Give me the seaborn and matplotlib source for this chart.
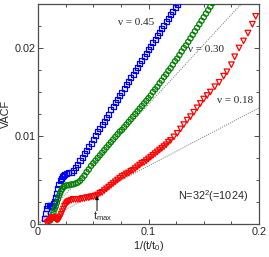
import matplotlib
matplotlib.use('Agg')
import matplotlib.pyplot as plt
import seaborn as sns
import pandas as pd

# values
blue_x = [0.006, 0.007, 0.008, 0.009, 0.010, 0.011, 0.012, 0.013, 0.014, 0.015,
          0.016, 0.017, 0.018, 0.019, 0.020, 0.021, 0.022, 0.023, 0.024,
          0.026, 0.028, 0.030, 0.032, 0.034, 0.036, 0.038, 0.040, 0.042, 0.044,
          0.046, 0.048, 0.050, 0.052, 0.054, 0.056, 0.058, 0.060, 0.062, 0.064,
          0.066, 0.068, 0.070, 0.072, 0.074, 0.076, 0.078, 0.080, 0.082, 0.084,
          0.086, 0.088, 0.090, 0.092, 0.094, 0.096, 0.098, 0.100, 0.102, 0.104,
          0.106, 0.108, 0.110, 0.112, 0.114, 0.116, 0.118, 0.120, 0.122, 0.124,
          0.126, 0.128]
blue_y = [0.0006, 0.0012, 0.0018, 0.0021, 0.0021, 0.0021, 0.0020, 0.0021, 0.0023, 0.0026,
          0.0030, 0.0035, 0.0040, 0.0045, 0.0049, 0.0052, 0.0054, 0.0055, 0.0056,
          0.0057, 0.0058, 0.0059, 0.0061, 0.0064, 0.0068, 0.0072, 0.0076, 0.0080, 0.0084,
          0.0088, 0.0092, 0.0096, 0.0101, 0.0105, 0.0109, 0.0113, 0.0117, 0.0121, 0.0125,
          0.0130, 0.0134, 0.0138, 0.0142, 0.0146, 0.0150, 0.0154, 0.0158, 0.0162, 0.0166,
          0.0170, 0.0174, 0.0178, 0.0182, 0.0186, 0.0190, 0.0194, 0.0198, 0.0202, 0.0206,
          0.0210, 0.0214, 0.0218, 0.0222, 0.0226, 0.0230, 0.0234, 0.0238, 0.0242, 0.0246,
          0.0250, 0.0254]

green_x = [0.011, 0.012, 0.013, 0.014, 0.015, 0.016, 0.017, 0.018, 0.019, 0.020,
           0.021, 0.022, 0.023, 0.024, 0.026, 0.028, 0.030, 0.032, 0.034, 0.036,
           0.038, 0.040, 0.042, 0.044, 0.046, 0.048, 0.050, 0.052, 0.054, 0.056,
           0.058, 0.060, 0.062, 0.064, 0.066, 0.068, 0.070, 0.072, 0.074, 0.076,
           0.078, 0.080, 0.082, 0.084, 0.086, 0.088, 0.090, 0.092, 0.094, 0.096,
           0.098, 0.100, 0.102, 0.104, 0.106, 0.108, 0.110, 0.112, 0.114, 0.116,
           0.118, 0.120, 0.122, 0.124, 0.126, 0.128, 0.130, 0.132, 0.134, 0.136,
           0.138, 0.140, 0.142, 0.144, 0.146, 0.148, 0.150, 0.152, 0.154, 0.156,
           0.158]
green_y = [0.0004, 0.0007, 0.0010, 0.0013, 0.0017, 0.0020, 0.0024, 0.0028, 0.0032, 0.0035,
           0.0038, 0.0040, 0.0042, 0.0043, 0.0044, 0.0044, 0.0045, 0.0045, 0.0046, 0.0047,
           0.0049, 0.0052, 0.0055, 0.0059, 0.0062, 0.0066, 0.0069, 0.0072, 0.0075, 0.0078,
           0.0081, 0.0084, 0.0087, 0.0090, 0.0093, 0.0096, 0.0099, 0.0102, 0.0105, 0.0107,
           0.0110, 0.0113, 0.0116, 0.0119, 0.0122, 0.0125, 0.0128, 0.0131, 0.0134, 0.0137,
           0.0140, 0.0143, 0.0146, 0.0150, 0.0153, 0.0156, 0.0160, 0.0163, 0.0167, 0.0170,
           0.0174, 0.0177, 0.0181, 0.0185, 0.0188, 0.0192, 0.0196, 0.0200, 0.0203, 0.0207,
           0.0211, 0.0215, 0.0219, 0.0223, 0.0227, 0.0231, 0.0235, 0.0239, 0.0243, 0.0247,
           0.0251]

red_x = [0.008, 0.009, 0.010, 0.011, 0.012, 0.013, 0.014, 0.015, 0.016, 0.017,
         0.018, 0.019, 0.020, 0.021, 0.022, 0.023, 0.024, 0.025, 0.026, 0.027,
         0.028, 0.030, 0.032, 0.034, 0.036, 0.038, 0.040, 0.042, 0.044, 0.046,
         0.048, 0.050, 0.052, 0.054, 0.056, 0.058, 0.060, 0.062, 0.064, 0.066,
         0.068, 0.070, 0.072, 0.074, 0.076, 0.078, 0.080, 0.082, 0.084, 0.086,
         0.088, 0.090, 0.092, 0.094, 0.096, 0.098, 0.100, 0.102, 0.104, 0.106,
         0.108, 0.110, 0.112, 0.114, 0.116, 0.118, 0.120, 0.123, 0.126, 0.129,
         0.132, 0.135, 0.138, 0.141, 0.144, 0.147, 0.150, 0.153, 0.156, 0.160,
         0.164, 0.168, 0.171, 0.175, 0.178, 0.182, 0.186, 0.190, 0.194, 0.197]
red_y = [0.0001, 0.0002, 0.0003, 0.0005, 0.0006, 0.0007, 0.0007, 0.0007, 0.0006, 0.0005,
         0.0005, 0.0006, 0.0008, 0.0011, 0.0014, 0.0017, 0.0020, 0.0022, 0.0024, 0.0025,
         0.0026, 0.0027, 0.0028, 0.0028, 0.0028, 0.0028, 0.0029, 0.0029, 0.0030, 0.0030,
         0.0031, 0.0031, 0.0032, 0.0033, 0.0035, 0.0036, 0.0038, 0.0040, 0.0042, 0.0044,
         0.0046, 0.0048, 0.0050, 0.0052, 0.0054, 0.0055, 0.0057, 0.0058, 0.0060, 0.0061,
         0.0063, 0.0065, 0.0067, 0.0069, 0.0070, 0.0072, 0.0074, 0.0076, 0.0078, 0.0080,
         0.0082, 0.0084, 0.0086, 0.0088, 0.0090, 0.0093, 0.0095, 0.0099, 0.0103, 0.0108,
         0.0113, 0.0118, 0.0122, 0.0127, 0.0132, 0.0137, 0.0142, 0.0146, 0.0150, 0.0156,
         0.0161, 0.0168, 0.0173, 0.0181, 0.0190, 0.0200, 0.0208, 0.0217, 0.0227, 0.0236]

# slopes of the dotted guide lines through the origin
fit_slopes = [0.136, 0.066]

labels = ['\u03bd = 0.45', '\u03bd = 0.30', '\u03bd = 0.18']
label_x = [0.0887, 0.152, 0.178]
label_y = [0.0229, 0.0198, 0.0140]

t_max_x = 0.0534
t_max_y = 0.0032

sns.set_theme(style='ticks')
plt.rcParams['font.family'] = ['Liberation Sans', 'DejaVu Sans']
plt.rcParams['mathtext.default'] = 'regular'

fig = plt.figure(figsize=(2.69, 2.57), dpi=100)
ax = fig.add_axes([0.1413, 0.1284, 0.8215, 0.856])

series = [
    (blue_x, blue_y, 's', 13, '#0000ff'),
    (green_x, green_y, 'o', 14, '#008000'),
    (red_x, red_y, 'v', 16, '#ff0000'),
]
for xs, ys, mk, size, col in series:
    df = pd.DataFrame({'x': xs, 'y': ys})
    sns.scatterplot(data=df, x='x', y='y', ax=ax, marker=mk, s=size, color=col,
                    linewidth=0.9, zorder=3, clip_on=True)
    pts = ax.collections[-1]
    pts.set_facecolor('none')
    pts.set_edgecolor(col)

for k in fit_slopes:
    ax.axline((0, 0), slope=k, color='0.45', lw=0.7, ls=(0, (1, 1.3)), zorder=2)

for txt, lx, ly in zip(labels, label_x, label_y):
    ax.text(lx, ly, txt, ha='center', va='center', fontsize=8,
            family='Liberation Serif')

ax.text(0.158, 0.0032, 'N=32$^2$(=1024)', ha='center', va='center', fontsize=7.8)
ax.annotate('', xy=(t_max_x, t_max_y), xytext=(t_max_x, 0.0015),
            arrowprops=dict(arrowstyle='-|>', color='black', lw=0.7,
                            mutation_scale=5, shrinkA=0, shrinkB=0))
ax.text(0.0495, 0.0009, 't$_{max}$', ha='left', va='center', fontsize=7.8)

ax.set_xlim(0, 0.2)
ax.set_ylim(0, 0.025)
ax.set_xticks([0, 0.1, 0.2])
ax.set_xticklabels(['0', '0.1', '0.2'])
ax.set_yticks([0, 0.01, 0.02])
ax.set_yticklabels(['0', '0.01', '0.02'])
ax.set_xticks([0.025, 0.05, 0.075, 0.125, 0.15, 0.175], minor=True)
ax.set_yticks([0.0025, 0.005, 0.0075, 0.0125, 0.015, 0.0175, 0.0225], minor=True)
ax.tick_params(which='both', direction='in', top=True, right=True,
               labelsize=7.8, color='0.3', width=0.7)
ax.tick_params(which='major', length=3.5)
ax.tick_params(which='minor', length=2.2)
ax.tick_params(axis='y', pad=1.5)
ax.tick_params(axis='x', pad=2.5)
for sp in ax.spines.values():
    sp.set_visible(True)
    sp.set_color('0.3')
    sp.set_linewidth(0.9)

ax.set_xlabel('1/(t/t$_0$)', fontsize=7.8, labelpad=1)
ax.set_ylabel('VACF', fontsize=7.8, labelpad=3)

fig.savefig('out.png', dpi=100)
